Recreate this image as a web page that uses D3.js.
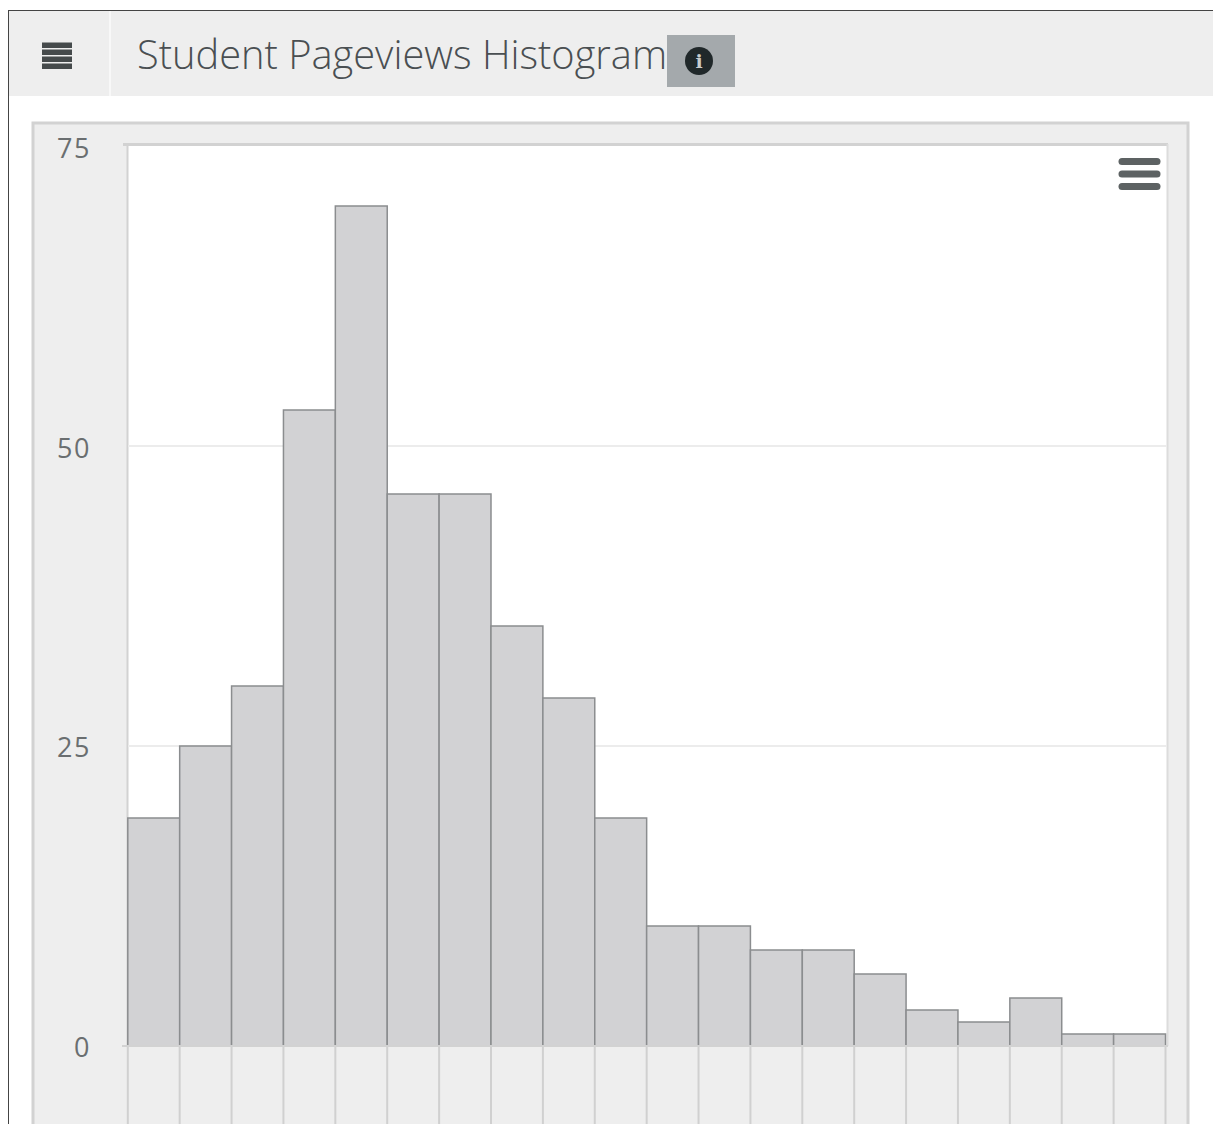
<!DOCTYPE html>
<html><head><meta charset="utf-8">
<script src="https://cdn.jsdelivr.net/npm/d3@7"></script>
<style>html,body{margin:0;padding:0;background:#fff;overflow:hidden}svg{display:block}</style>
</head><body><svg id="c" width="1213" height="1124"></svg>
<script>
const titleText = "Student Pageviews Histogram";
const binIndex = d3.range(20);
const counts = [19,25,30,53,70,46,46,35,29,19,10,10,8,8,6,3,2,4,1,1];
const yTicks = [0,25,50,75];

const svg = d3.select("#c");
const font = "'Open Sans', sans-serif";
const x = d3.scaleBand().domain(binIndex).range([127.8,1165.5]).padding(0);
const y = d3.scaleLinear().domain([0,75]).range([1046,146]);
const labelY = d3.scaleLinear().domain([0,75]).range([1056.5,158]);

// frame + header
svg.append("rect").attr("x",8.5).attr("y",10.5).attr("width",1300).attr("height",1300).attr("fill","#fff").attr("stroke","#444").attr("stroke-width",1);
svg.append("rect").attr("x",9).attr("y",11).attr("width",1204).attr("height",85).attr("fill","#eeeeee");
svg.append("rect").attr("x",109).attr("y",11).attr("width",2).attr("height",85).attr("fill","#f8f8f8");
[42.5,49.5,56.5,63.5].forEach(v=>svg.append("rect").attr("x",42).attr("y",v).attr("width",30).attr("height",5.5).attr("fill","#454a4b"));
svg.append("text").attr("x",137).attr("y",69).attr("font-family",font).attr("font-weight",300).attr("font-size",39.8).attr("fill","#4a4f52").text(titleText);
svg.append("rect").attr("x",667).attr("y",35).attr("width",68).attr("height",52).attr("fill","#a4a9ac");
svg.append("circle").attr("cx",699).attr("cy",61).attr("r",14).attr("fill","#20282a");
svg.append("text").attr("x",699).attr("y",68).attr("text-anchor","middle").attr("font-family","'DejaVu Serif', serif").attr("font-weight",700).attr("font-size",19).attr("fill","#c8cccc").text("i");

// panel
svg.append("rect").attr("x",33).attr("y",123).attr("width",1155).attr("height",1100).attr("fill","#eeeeee").attr("stroke","#d2d2d2").attr("stroke-width",3);
svg.append("rect").attr("x",128).attr("y",145).attr("width",1039).attr("height",901).attr("fill","#ffffff");
svg.append("line").attr("x1",123).attr("x2",1168).attr("y1",144.5).attr("y2",144.5).attr("stroke","#d2d2d2").attr("stroke-width",3);
svg.append("line").attr("x1",127.5).attr("x2",127.5).attr("y1",144).attr("y2",1046).attr("stroke","#d2d2d2").attr("stroke-width",2);
svg.append("line").attr("x1",1167.5).attr("x2",1167.5).attr("y1",144).attr("y2",1046).attr("stroke","#dcdcdc").attr("stroke-width",2);

// gridlines
svg.append("g").selectAll("line").data(yTicks.filter(t=>t===25||t===50)).join("line")
  .attr("x1",128).attr("x2",1167).attr("y1",d=>y(d)).attr("y2",d=>y(d)).attr("stroke","#ececec").attr("stroke-width",2);

// y labels
svg.append("g").selectAll("text").data(yTicks).join("text")
  .attr("x",91).attr("y",d=>labelY(d)).attr("text-anchor","end").attr("font-family",font).attr("font-size",27).attr("letter-spacing",1.5).attr("fill","#6a6e70").text(d=>d);

// x tick lines below the axis
const edges = binIndex.map(i=>x(i)).concat([x(19)+x.bandwidth()]);
svg.append("g").selectAll("line").data(edges).join("line")
  .attr("x1",d=>d).attr("x2",d=>d).attr("y1",1046).attr("y2",1124).attr("stroke","#d0d0d0").attr("stroke-width",2);

// bars
svg.append("g").selectAll("rect").data(counts).join("rect")
  .attr("x",(d,i)=>x(i)).attr("y",d=>y(d)).attr("width",x.bandwidth()).attr("height",d=>y(0)-y(d))
  .attr("fill","#d2d2d4").attr("stroke","#8b8d8f").attr("stroke-width",1.5);

// baseline
svg.append("line").attr("x1",122).attr("x2",1168).attr("y1",1046).attr("y2",1046).attr("stroke","#d2d2d2").attr("stroke-width",2);

// menu icon
[161.5,174,186.5].forEach(v=>svg.append("line").attr("x1",1122).attr("x2",1157).attr("y1",v).attr("y2",v).attr("stroke","#5d6263").attr("stroke-width",7).attr("stroke-linecap","round"));
</script></body></html>
